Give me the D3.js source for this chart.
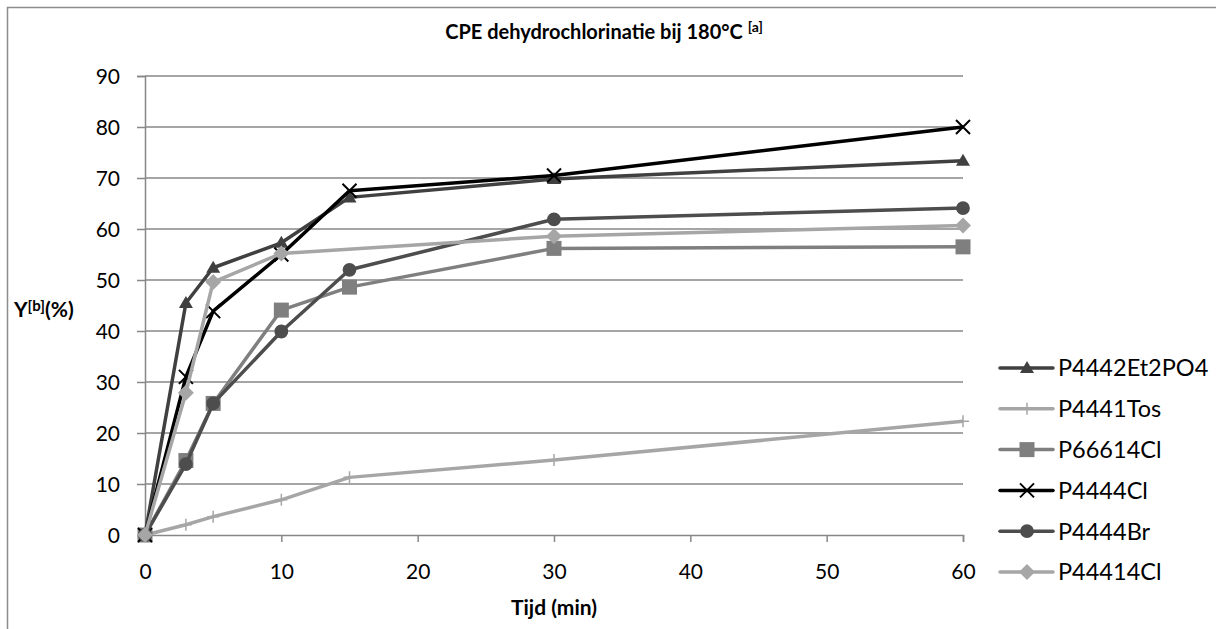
<!DOCTYPE html>
<html>
<head>
<meta charset="utf-8">
<script src="https://cdn.jsdelivr.net/npm/d3@7"></script>
<style>
  body { margin: 0; background: #fff; }
  text { font-family: Lato, "Open Sans", sans-serif; fill: #000; }
</style>
</head>
<body>
<div id="wrapper"></div>
<script>
// 1. Data
const seriesNames = ["P4442Et2PO4", "P4441Tos", "P66614Cl", "P4444Cl", "P4444Br", "P44414Cl"]
const timesA = [0, 3, 5, 10, 15, 30, 60]
const timesB = [0, 3, 5, 10, 30, 60]
const p4442Et2PO4 = [0, 45.5, 52.4, 57.3, 66.2, 69.8, 73.4]
const p4441Tos = [0, 2.0, 3.6, 6.9, 11.3, 14.7, 22.3]
const p66614Cl = [0, 14.6, 25.8, 44.1, 48.6, 56.2, 56.5]
const p4444Cl = [0, 31.0, 43.9, 55.0, 67.5, 70.5, 80.0]
const p4444Br = [0, 13.9, 25.8, 39.9, 52.0, 61.9, 64.1]
const p44414Cl = [0, 27.9, 49.6, 55.2, 58.6, 60.7]
const xTicks = [0, 10, 20, 30, 40, 50, 60]
const yTicks = [0, 10, 20, 30, 40, 50, 60, 70, 80, 90]

const series = [
    { name: seriesNames[0], x: timesA, y: p4442Et2PO4, color: "#404040", marker: "triangle" },
    { name: seriesNames[1], x: timesA, y: p4441Tos, color: "#a6a6a6", marker: "plus" },
    { name: seriesNames[2], x: timesA, y: p66614Cl, color: "#7f7f7f", marker: "square" },
    { name: seriesNames[3], x: timesA, y: p4444Cl, color: "#000000", marker: "x" },
    { name: seriesNames[4], x: timesA, y: p4444Br, color: "#4d4d4d", marker: "circle" },
    { name: seriesNames[5], x: timesB, y: p44414Cl, color: "#a6a6a6", marker: "diamond" },
]

// 2. Dimensions
const width = 1216
const height = 629
const plot = { left: 145, right: 963, top: 76, bottom: 535 }
const gridColor = "#878787"

// 3. Canvas
const svg = d3.select("#wrapper")
    .append("svg")
    .attr("width", width)
    .attr("height", height)

// chart border
svg.append("rect")
    .attr("x", 7.5).attr("y", 7.5)
    .attr("width", width + 20).attr("height", height + 20)
    .attr("fill", "none")
    .attr("stroke", "#8c8c8c")
    .attr("stroke-width", 1.5)

// 4. Scales
const xScale = d3.scaleLinear().domain([0, 60]).range([plot.left, plot.right])
const yScale = d3.scaleLinear().domain([0, 90]).range([plot.bottom, plot.top])

// gridlines
svg.append("g")
    .selectAll("line")
    .data(yTicks.filter(d => d > 0))
    .join("line")
    .attr("x1", plot.left).attr("x2", plot.right)
    .attr("y1", d => yScale(d)).attr("y2", d => yScale(d))
    .attr("stroke", gridColor)
    .attr("stroke-width", 1.5)

// axes
const yAxis = svg.append("g")
    .attr("transform", `translate(${plot.left},0)`)
    .call(d3.axisLeft(yScale).tickValues(yTicks).tickSize(8).tickPadding(17))
const xAxis = svg.append("g")
    .attr("transform", `translate(0,${plot.bottom})`)
    .call(d3.axisBottom(xScale).tickValues(xTicks).tickSize(7).tickPadding(22))

for (const ax of [xAxis, yAxis]) {
    ax.select(".domain").attr("stroke", gridColor).attr("stroke-width", 1.5)
    ax.selectAll(".tick line").attr("stroke", gridColor).attr("stroke-width", 1.5)
    ax.selectAll(".tick text")
        .style("font-family", "Lato, sans-serif")
        .style("font-size", "21px")
        .attr("fill", "#000")
}
yAxis.selectAll(".tick text").attr("dy", "0.36em")

// 5. Markers
function markerPath(type) {
    switch (type) {
        case "triangle": return "M0,-7L7,5L-7,5Z"
        case "square": return "M-7.5,-7.5H7.5V7.5H-7.5Z"
        case "diamond": return "M0,-8L8,0L0,8L-8,0Z"
        case "circle": return d3.symbol(d3.symbolCircle, 150)()
        case "x": return "M-7,-7L7,7M-7,7L7,-7"
        case "plus": return "M-6,0H6M0,-6V6"
    }
}
function drawMarker(g, type, color) {
    const stroked = type === "x" || type === "plus"
    g.append("path")
        .attr("d", markerPath(type))
        .attr("fill", stroked ? "none" : color)
        .attr("stroke", stroked ? color : "none")
        .attr("stroke-width", type === "x" ? 2 : 1.5)
}

const line = d3.line()
    .x(d => xScale(d[0]))
    .y(d => yScale(d[1]))

const seriesGroups = svg.append("g")
    .selectAll("g")
    .data(series)
    .join("g")

seriesGroups.append("path")
    .attr("d", s => line(s.x.map((t, i) => [t, s.y[i]])))
    .attr("fill", "none")
    .attr("stroke", s => s.color)
    .attr("stroke-width", 3.5)
    .attr("stroke-linejoin", "round")

seriesGroups.each(function (s) {
    const g = d3.select(this)
    s.x.forEach((t, i) => {
        const m = g.append("g").attr("transform", `translate(${xScale(t)},${yScale(s.y[i])})`)
        drawMarker(m, s.marker, s.color)
    })
})

// 6. Peripherals
const title = svg.append("text")
    .attr("x", 604)
    .attr("y", 39)
    .attr("text-anchor", "middle")
    .style("font-size", "20px")
    .style("font-weight", "bold")
title.append("tspan").text("CPE dehydrochlorinatie bij 180°C ")
title.append("tspan").text("[a]").attr("dy", -7).style("font-size", "14px")

svg.append("text")
    .attr("x", (plot.left + plot.right) / 2)
    .attr("y", 615)
    .attr("text-anchor", "middle")
    .style("font-size", "21px")
    .style("font-weight", "bold")
    .text("Tijd (min)")

const yTitle = svg.append("text")
    .attr("x", 14)
    .attr("y", 317)
    .style("font-size", "21px")
    .style("font-weight", "bold")
yTitle.append("tspan").text("Y")
yTitle.append("tspan").text("[b]").attr("dy", -6).style("font-size", "15px")
yTitle.append("tspan").text("(%)").attr("dy", 6)

// legend
const legend = svg.append("g")
    .selectAll("g")
    .data(series)
    .join("g")
    .attr("transform", (d, i) => `translate(1000,${368 + i * 40.8})`)

legend.append("line")
    .attr("x1", 0).attr("x2", 53)
    .attr("stroke", d => d.color)
    .attr("stroke-width", 3.5)
    .attr("stroke-linecap", "round")
legend.each(function (s) {
    const m = d3.select(this).append("g").attr("transform", "translate(27,0)")
    drawMarker(m, s.marker, s.color)
})
legend.append("text")
    .attr("x", 58)
    .attr("dy", "0.36em")
    .style("font-size", "23.5px")
    .text(d => d.name)
</script>
</body>
</html>
